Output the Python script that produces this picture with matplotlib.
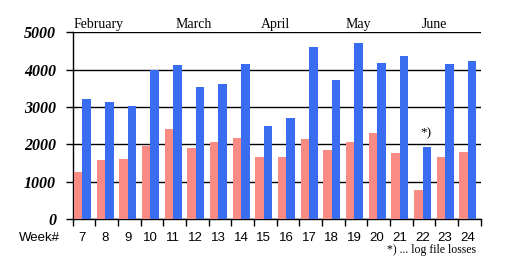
import matplotlib.pyplot as plt
import numpy as np

weeks = [7, 8, 9, 10, 11, 12, 13, 14, 15, 16, 17, 18, 19, 20, 21, 22, 23, 24]
salmon_vals = [1260, 1590, 1610, 1960, 2410, 1910, 2070, 2180, 1670, 1670,
               2150, 1850, 2070, 2310, 1770, 780, 1670, 1800]
blue_vals = [3220, 3140, 3030, 4000, 4120, 3540, 3620, 4150, 2500, 2710,
             4600, 3730, 4710, 4180, 4370, 1930, 4150, 4230]
months = ['February', 'March', 'April', 'May', 'June']
month_pos = [1.15, 5.35, 8.95, 12.6, 15.95]  # in group units

salmon = '#fa8a84'
blue = '#3a6cf0'

fig = plt.figure(figsize=(5.12, 2.71), dpi=100)
ax = fig.add_axes([0.142, 0.191, 0.797, 0.69])

x = np.arange(len(weeks))
w = 0.38
ax.bar(x + 0.05, salmon_vals, width=w, align='edge', color=salmon, zorder=3)
ax.bar(x + 0.05 + w, blue_vals, width=w, align='edge', color=blue, zorder=3)

ax.set_xlim(0, len(weeks))
ax.set_ylim(0, 5000)
ax.set_yticks(range(0, 5001, 1000))
ax.set_yticklabels([str(v) for v in range(0, 5001, 1000)],
                   fontfamily='Liberation Serif', fontweight='bold',
                   fontstyle='italic', fontsize=11.5)
ax.yaxis.grid(True, color='black', lw=1, zorder=1)
ax.set_axisbelow(False)

ax.set_xticks(np.arange(len(weeks) + 1))
ax.set_xticklabels([])
ax.set_xticks(x + 0.43, minor=True)
ax.set_xticklabels([str(wk) for wk in weeks], minor=True,
                   fontfamily='Liberation Sans', fontsize=9.5)
ax.tick_params(axis='x', which='minor', length=0, pad=9)
ax.tick_params(axis='x', which='major', length=5, width=1, direction='out')
ax.tick_params(axis='y', length=5, width=1, direction='out', pad=7)

for s in ['top', 'right']:
    ax.spines[s].set_visible(False)
ax.spines['left'].set_linewidth(1)
ax.spines['bottom'].set_linewidth(1)

for m, p in zip(months, month_pos):
    ax.text(p, 5115, m, ha='center', va='baseline',
            fontfamily='Liberation Serif', fontsize=10)

ax.text(15.6, 2300, '*)', ha='center', va='center',
        fontfamily='Liberation Serif', fontsize=9.5)
fig.text(39 / 512, 1 - 238 / 271, 'Week#', ha='center', va='center',
         fontfamily='Liberation Sans', fontsize=9.5)
fig.text(476 / 512, 1 - 250 / 271, '*) ... log file losses', ha='right',
         va='center', fontfamily='Liberation Serif', fontsize=8.5)

fig.savefig('out.png', dpi=100)
